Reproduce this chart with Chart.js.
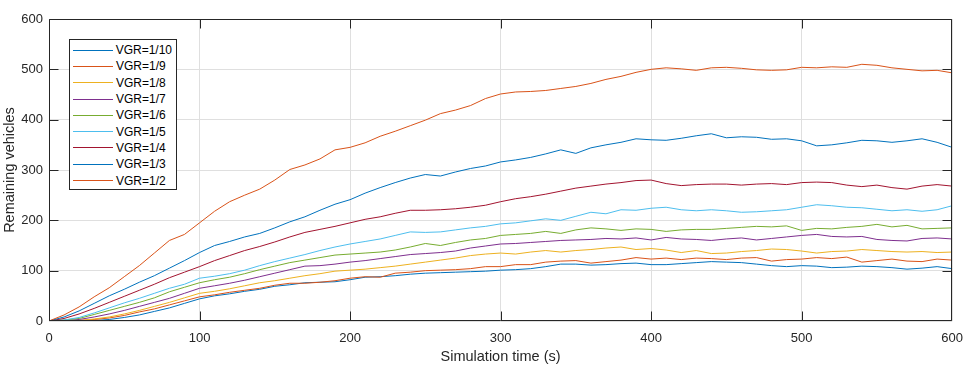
<!DOCTYPE html>
<html><head><meta charset="utf-8">
<script src="https://cdn.jsdelivr.net/npm/chart.js@4.4.1/dist/chart.umd.min.js"></script>
<style>
html,body{margin:0;padding:0;background:#fff;}
#wrap{position:relative;width:973px;height:378px;}
#legend{position:absolute;background:#fff;border:1px solid #262626;font-family:"Liberation Sans",Arial,sans-serif;font-size:12px;color:#000;box-sizing:border-box;padding:2px 4px 0 3px;}
.row{display:flex;align-items:center;height:16.3px;white-space:nowrap;}
.sw{width:40px;height:0;border-top:1px solid;margin-right:3px;}
</style></head>
<body><div id="wrap"><canvas id="c" width="973" height="378"></canvas><div id="legend"></div></div>
<script>
const times = [0,10,20,30,40,50,60,70,80,90,100,110,120,130,140,150,160,170,180,190,200,210,220,230,240,250,260,270,280,290,300,310,320,330,340,350,360,370,380,390,400,410,420,430,440,450,460,470,480,490,500,510,520,530,540,550,560,570,580,590,600];
const labels = ['VGR=1/10','VGR=1/9','VGR=1/8','VGR=1/7','VGR=1/6','VGR=1/5','VGR=1/4','VGR=1/3','VGR=1/2'];
const vgr10 = [0,0,0,1,3,7,12,19,26,35,44,50,54,59,63,69,72,76,77,78,82,87,88,90,93,95,96,97,98,99,101,102,104,108,113,113,111,112,114,115,112,112,114,116,118,117,116,113,110,108,110,109,106,107,109,108,106,103,105,108,104];
const vgr9 = [0,0,1,3,6,11,18,24,32,40,48,52,57,61,65,71,75,75,77,80,85,88,87,95,97,100,101,102,104,108,108,112,112,117,119,120,115,118,121,126,123,125,122,125,124,122,125,126,119,122,123,126,124,127,117,120,123,119,118,123,121];
const vgr8 = [0,0,1,4,8,14,21,29,37,46,55,59,64,70,76,80,85,90,94,99,101,103,106,109,113,117,121,125,130,133,135,133,137,140,137,140,142,145,147,142,144,141,136,140,134,135,138,140,143,142,139,135,138,139,142,140,138,137,138,136,137];
const vgr7 = [0,1,3,8,14,21,29,37,45,55,65,70,75,81,88,95,102,109,110,113,117,120,124,128,132,134,136,139,145,149,153,154,156,158,160,161,162,164,163,165,161,166,163,162,160,163,165,161,164,167,170,172,168,167,168,162,160,159,164,165,163];
const vgr6 = [0,2,5,13,21,29,37,46,58,67,76,82,87,94,102,109,116,121,126,131,133,135,137,141,147,154,150,156,161,164,170,172,174,178,174,181,185,183,180,183,182,178,181,182,182,184,186,188,187,189,180,184,183,186,188,192,187,190,183,184,185];
const vgr5 = [0,2,7,16,26,36,45,55,65,73,85,89,94,101,110,118,125,132,140,147,153,158,163,170,177,176,177,181,185,188,193,195,199,203,200,208,216,213,221,220,224,226,221,219,221,219,216,217,219,221,226,231,229,226,225,222,219,221,218,221,229];
const vgr4 = [0,5,14,25,37,49,61,73,86,97,108,120,130,140,148,157,167,176,182,188,195,202,207,214,220,220,221,223,226,230,237,243,247,252,258,264,268,272,275,279,280,273,269,271,272,272,270,272,273,271,275,276,275,270,267,270,265,262,268,271,268];
const vgr3 = [0,8,20,35,50,63,77,90,105,120,136,150,158,167,174,185,197,207,220,232,241,254,265,275,284,291,288,296,303,308,316,320,325,332,340,333,344,350,355,362,360,359,363,368,372,364,366,365,361,362,358,348,350,354,359,358,355,358,362,355,345];
const vgr2 = [0,12,28,48,66,88,110,135,160,172,195,218,237,250,262,280,301,310,322,340,345,354,367,377,388,399,412,419,428,442,451,455,456,458,462,466,472,480,486,494,500,503,501,498,503,504,502,499,498,499,504,503,505,504,510,508,503,500,497,498,493];
const xTicks = [0,100,200,300,400,500,600];
const yTicks = [0,100,200,300,400,500,600];

const series = [vgr10,vgr9,vgr8,vgr7,vgr6,vgr5,vgr4,vgr3,vgr2];
const colors = ['#0072BD','#D95319','#EDB120','#7E2F8E','#77AC30','#4DBEEE','#A2142F','#0072BD','#D95319'];

const datasets = series.map((vals,i)=>({
  label: labels[i],
  data: times.map((t,j)=>({x:t,y:vals[j]})),
  borderColor: colors[i],
  backgroundColor: colors[i],
  borderWidth: 1,
  pointRadius: 0,
  fill: false,
  tension: 0,
  order: series.length - i
}));

const AX = '#262626';
const frame = {
  id: 'frame',
  afterDatasetsDraw(chart){
    const {ctx, chartArea:{left,right,top,bottom}, scales:{x,y}} = chart;
    const L = Math.round(left)+0.5, R = Math.round(right)-0.5, T = Math.round(top)+0.5, B = Math.round(bottom)-0.5;
    ctx.save();
    ctx.strokeStyle = AX; ctx.lineWidth = 1;
    ctx.beginPath();
    ctx.rect(L, T, R-L, B-T);
    const tl = 9;
    xTicks.forEach(v=>{
      const px = Math.round(x.getPixelForValue(v)) + 0.5;
      const pxc = Math.min(Math.max(px, L), R);
      ctx.moveTo(pxc, B); ctx.lineTo(pxc, B-tl);
      ctx.moveTo(pxc, T); ctx.lineTo(pxc, T+tl);
    });
    yTicks.forEach(v=>{
      const py = Math.round(y.getPixelForValue(v)) + 0.5;
      const pyc = Math.min(Math.max(py, T), B);
      ctx.moveTo(L, pyc); ctx.lineTo(L+tl, pyc);
      ctx.moveTo(R, pyc); ctx.lineTo(R-tl, pyc);
    });
    ctx.stroke();
    ctx.restore();
  }
};

const FONT = '"Liberation Sans", Arial, sans-serif';
const chart = new Chart(document.getElementById('c'), {
  type: 'line',
  data: { datasets },
  options: {
    responsive: false,
    animation: false,
    devicePixelRatio: 1,
    layout: { padding: { left: 0, right: 17, top: 19, bottom: 0 } },
    plugins: { legend: { display: false }, tooltip: { enabled: false } },
    scales: {
      x: {
        type: 'linear', min: 0, max: 600,
        afterBuildTicks: s => { s.ticks = xTicks.map(v=>({value:v})); },
        afterFit: s => { s.height = 57; },
        ticks: { color: AX, font: { family: FONT, size: 13 }, padding: 10, maxRotation: 0 },
        grid: { color: '#dfdfdf', drawTicks: false, lineWidth: 1 },
        border: { display: false },
        title: { display: true, text: 'Simulation time (s)', color: AX, font: { family: FONT, size: 14.5 }, padding: { top: 0, bottom: 12 } }
      },
      y: {
        type: 'linear', min: 0, max: 600,
        afterBuildTicks: s => { s.ticks = yTicks.map(v=>({value:v})); },
        afterFit: s => { s.width = 49; },
        ticks: { color: AX, font: { family: FONT, size: 13 }, padding: 6 },
        grid: { color: '#dfdfdf', drawTicks: false, lineWidth: 1 },
        border: { display: false },
        title: { display: true, text: 'Remaining vehicles', color: AX, font: { family: FONT, size: 14.5 }, padding: { top: 1, bottom: 0 } }
      }
    }
  },
  plugins: [frame]
});

// fit plot area to target box
const target = { left: 49, right: 956, top: 19, bottom: 321 };
for (let k = 0; k < 3; k++) {
  const ca = chart.chartArea, p = chart.options.layout.padding;
  p.right += ca.right - target.right;
  p.top += target.top - ca.top;
  p.left += target.left - ca.left;
  p.bottom += ca.bottom - target.bottom;
  chart.update();
}

const lg = document.getElementById('legend');
chart.data.datasets.forEach(d=>{
  const row = document.createElement('div'); row.className='row';
  const sw = document.createElement('span'); sw.className='sw'; sw.style.borderTopColor = d.borderColor;
  const tx = document.createElement('span'); tx.textContent = d.label;
  row.appendChild(sw); row.appendChild(tx); lg.appendChild(row);
});
const ca = chart.chartArea;
lg.style.left = (ca.left + 20) + 'px';
lg.style.top = (ca.top + 20) + 'px';
lg.style.width = '108px';
lg.style.height = '151px';
</script>
</body></html>
